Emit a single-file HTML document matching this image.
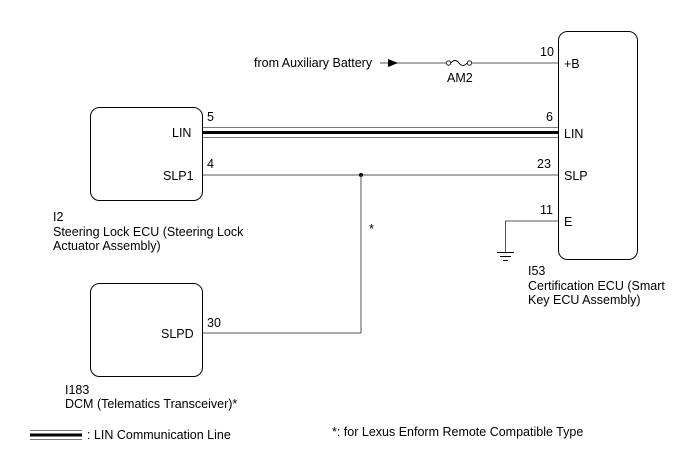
<!DOCTYPE html>
<html><head><meta charset="utf-8"><style>
html,body{margin:0;padding:0;background:#fff;}
svg{display:block;}
text{font-family:"Liberation Sans",Arial,sans-serif;font-size:12.5px;fill:#000;}
</style></head><body>
<svg width="688" height="463" viewBox="0 0 688 463" xmlns="http://www.w3.org/2000/svg">
<rect x="90.5" y="107.5" width="112" height="93" rx="9" fill="none" stroke="#000" stroke-width="1"/>
<rect x="90.5" y="283.5" width="112" height="93" rx="9" fill="none" stroke="#000" stroke-width="1"/>
<rect x="558.5" y="31.5" width="79" height="228" rx="9" fill="none" stroke="#000" stroke-width="1"/>

<line x1="380" y1="63" x2="446" y2="63" stroke="#555" stroke-width="1"/>
<polygon points="388,59 398,63 388,67" fill="#000"/>
<circle cx="448.5" cy="63" r="2.2" fill="#fff" stroke="#000" stroke-width="0.8"/>
<path d="M451,63 q4,-5 8,0 q4,5 8,0" fill="none" stroke="#000" stroke-width="1"/>
<circle cx="469.5" cy="63" r="2.2" fill="#fff" stroke="#000" stroke-width="0.8"/>
<line x1="472" y1="63" x2="558" y2="63" stroke="#555" stroke-width="1"/>
<text x="254" y="67">from Auxiliary Battery</text>
<text x="447" y="82">AM2</text>
<text x="540" y="56">10</text>
<text x="564" y="68">+B</text>

<line x1="203" y1="127.5" x2="558" y2="127.5" stroke="#777" stroke-width="1"/>
<line x1="203" y1="132.5" x2="558" y2="132.5" stroke="#000" stroke-width="3"/>
<line x1="203" y1="137.5" x2="558" y2="137.5" stroke="#777" stroke-width="1"/>
<text x="207" y="121">5</text>
<text x="546" y="121">6</text>
<text x="172" y="137">LIN</text>
<text x="564" y="138">LIN</text>

<line x1="203" y1="175" x2="558" y2="175" stroke="#555" stroke-width="1"/>
<circle cx="361" cy="175" r="2" fill="#000"/>
<line x1="361" y1="175" x2="361" y2="333" stroke="#555" stroke-width="1"/>
<line x1="203" y1="333" x2="361" y2="333" stroke="#555" stroke-width="1"/>
<text x="207" y="168">4</text>
<text x="537" y="168">23</text>
<text x="163" y="180">SLP1</text>
<text x="564" y="180">SLP</text>
<text x="369" y="233">*</text>
<text x="207" y="327">30</text>
<text x="161" y="338">SLPD</text>

<polyline points="558,221 505.5,221 505.5,252" fill="none" stroke="#555" stroke-width="1"/>
<line x1="497" y1="252.5" x2="514" y2="252.5" stroke="#000"/>
<line x1="500" y1="256.5" x2="511" y2="256.5" stroke="#000"/>
<line x1="503" y1="260.5" x2="508" y2="260.5" stroke="#000"/>
<text x="540" y="214">11</text>
<text x="564" y="226">E</text>

<text x="53" y="221">I2</text>
<text x="53" y="236">Steering Lock ECU (Steering Lock</text>
<text x="53" y="250">Actuator Assembly)</text>
<text x="528" y="275">I53</text>
<text x="528" y="290">Certification ECU (Smart</text>
<text x="528" y="304">Key ECU Assembly)</text>
<text x="65" y="394">I183</text>
<text x="65" y="408">DCM (Telematics Transceiver)*</text>

<line x1="30" y1="430.5" x2="82" y2="430.5" stroke="#777"/>
<line x1="30" y1="435" x2="82" y2="435" stroke="#000" stroke-width="3"/>
<line x1="30" y1="439.5" x2="82" y2="439.5" stroke="#777"/>
<text x="87" y="439">: LIN Communication Line</text>
<text x="332" y="436">*: for Lexus Enform Remote Compatible Type</text>
</svg>
</body></html>
